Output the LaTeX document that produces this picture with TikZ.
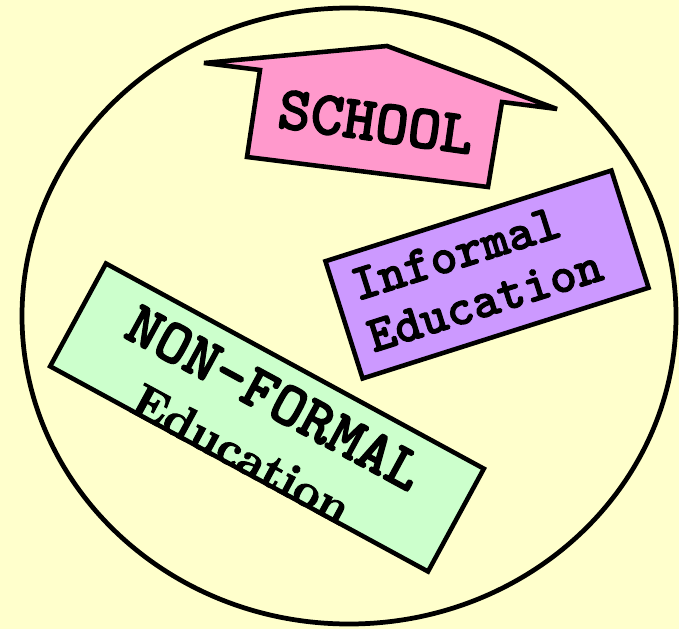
\documentclass[tikz,border=0pt]{standalone}
\usepackage{fontspec}
\newfontfamily\monobold{lmmonolt10-bold}[Extension=.otf, FakeBold=2]
\newfontfamily\serifbold{lmroman10-bold}[Extension=.otf, FakeBold=2]
\usepackage{tikz}
\definecolor{paper}{HTML}{FFFFCC}
\definecolor{schoolpink}{HTML}{FF99CC}
\definecolor{informalviolet}{HTML}{CC99FF}
\definecolor{nonformalgreen}{HTML}{CCFFCC}

\begin{document}
\begin{tikzpicture}[outline/.style={draw, line width=2.7pt}, card/.style={rectangle, draw, line width=2.6pt, inner sep=0pt}, mono/.style={font=\monobold\fontsize{35.5}{40}\selectfont}, edutext/.style={font=\serifbold\fontsize{27}{32}\selectfont}]
            % background
            \fill[paper] (0,0) rectangle (13.58,12.58);
            \useasboundingbox (0,0) rectangle (13.58,12.58);
            % shapes
            \draw[outline] (6.98,6.26) ellipse [x radius=6.54, y radius=6.16];
            \filldraw[outline, line width=2.6pt, miter limit=2.5, fill=schoolpink] (4.08,11.32) -- (7.74,11.66) -- (11.14,10.40) -- (10.04,10.54) -- (9.76,8.84) -- (4.94,9.44) -- (5.20,11.18) -- cycle;
            % nodes
            \node[mono, rotate=-8] (school) at (7.52,10.14) {SCHOOL};
            \begin{scope}[shift={(9.74,7.09)}, rotate=17.6]
                \node[card, fill=informalviolet, rotate=17.6, minimum width=6cm, minimum height=2.46cm] (informal) at (0,0) {};
                \node[align=left, rotate=17.6, font=\monobold\fontsize{29.3}{30.7}\selectfont] (informaltext) at (-0.2,0.05) {Informal\\Education};
            \end{scope}
            \begin{scope}[shift={(5.34,4.23)}, rotate=-28.5]
                \node[card, fill=nonformalgreen, rotate=-28.5, minimum width=8.6cm, minimum height=2.34cm] (nonformal) at (0,0) {};
                \node[mono, rotate=-28.5] (nfword) at (-0.05,0.42) {NON-FORMAL};
                \node[edutext, rotate=-28.5] (nfedu) at (-0.10,-0.88) {Education};
            \end{scope}
        \end{tikzpicture}
\end{document}
